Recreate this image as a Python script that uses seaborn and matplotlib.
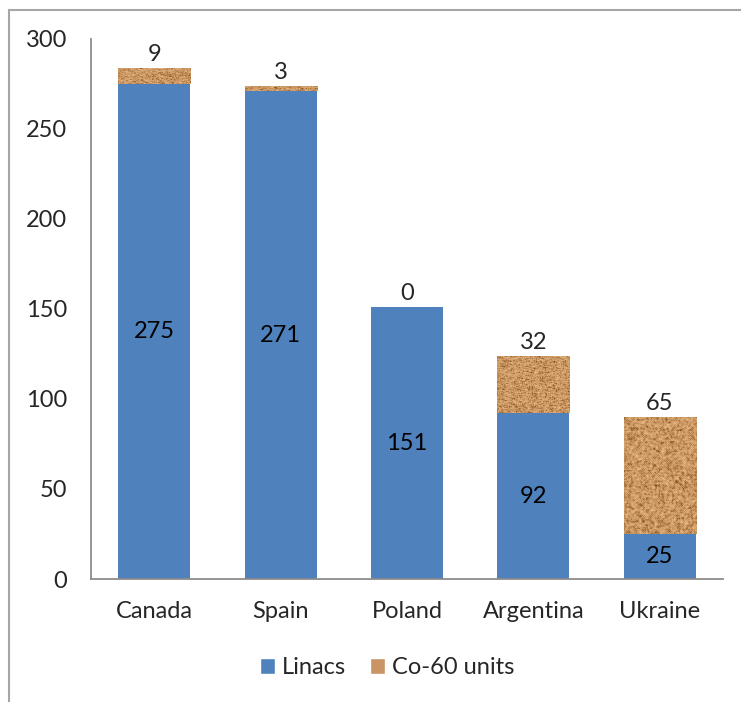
import numpy as np
import pandas as pd
import matplotlib
matplotlib.use("Agg")
import matplotlib.pyplot as plt
import seaborn as sns
from matplotlib.patches import Rectangle, Patch
from matplotlib.colors import LinearSegmentedColormap

countries = ["Canada", "Spain", "Poland", "Argentina", "Ukraine"]
linacs = [275, 271, 151, 92, 25]
co60 = [9, 3, 0, 32, 65]
yticks = [0, 50, 100, 150, 200, 250, 300]

sns.set_theme(style="white")
plt.rcParams['font.family'] = ['Lato', 'DejaVu Sans']

W, H = 741, 702
fig = plt.figure(figsize=(W / 100, H / 100), dpi=100)
ax = fig.add_axes([91 / W, 1 - 579 / H, (723 - 91) / W, (579 - 39) / H])

df = pd.DataFrame({"country": countries, "Linacs": linacs, "Co-60": co60})
df["total"] = df["Linacs"] + df["Co-60"]

blue = "#4F81BD"
brown = "#C99564"
FS = 17

sns.barplot(data=df, x="country", y="total", color=brown, width=0.57,
            saturation=1, ax=ax, edgecolor="none")
n_tot = len(ax.patches)
sns.barplot(data=df, x="country", y="Linacs", color=blue, width=0.57,
            saturation=1, ax=ax, edgecolor="none")

# cork-like texture from a deterministic hash
yy, xx = np.mgrid[0:130, 0:74].astype(float)
def h(a, b):
    v = np.sin(a * 12.9898 + b * 78.233) * 43758.5453
    return v - np.floor(v)
t = h(xx, yy)
t = (t + np.roll(t, 1, 0) + np.roll(t, 1, 1) + np.roll(t, -1, 0) + np.roll(t, -1, 1)) / 5
t = (t - t.min()) / (t.max() - t.min())
cmap = LinearSegmentedColormap.from_list(
    "cork", ["#7A4A22", "#A8733F", "#CC9863", "#DEAD7A", "#EBC393"])
for i, p in enumerate(ax.patches[:n_tot]):
    x0 = p.get_x(); w = p.get_width()
    top = p.get_height(); bot = linacs[i]
    if top - bot <= 0:
        continue
    im = ax.imshow(t, cmap=cmap, extent=[x0, x0 + w, bot, top],
                   aspect="auto", zorder=p.get_zorder() + 0.1, interpolation="nearest")
    im.set_clip_path(p)

ax.set_xlim(-0.5, 4.5)
ax.set_ylim(0, 300)
ax.set_yticks(yticks)
ax.set_yticklabels([str(v) for v in yticks], fontsize=FS)
ax.set_xlabel("")
ax.set_ylabel("")
ax.tick_params(axis="x", labelsize=FS, length=0, pad=16)
ax.tick_params(axis="y", length=0, pad=17)
for s in ["top", "right"]:
    ax.spines[s].set_visible(False)
for s in ["left", "bottom"]:
    ax.spines[s].set_color("#8C8C8C")
    ax.spines[s].set_linewidth(1.3)

for i in range(len(countries)):
    ax.text(i, linacs[i] / 2, str(linacs[i]), ha="center", va="center", fontsize=FS, color="black", zorder=10)
    ax.annotate(str(co60[i]), (i, linacs[i] + co60[i]), xytext=(0, 2),
                textcoords="offset points", ha="center", va="bottom", fontsize=FS, zorder=10)

handles = [Patch(facecolor=blue, label="Linacs"), Patch(facecolor=brown, label="Co-60 units")]
fig.legend(handles=handles, loc="center", bbox_to_anchor=(387 / W, 1 - 668 / H), ncol=2,
           frameon=False, fontsize=FS, handlelength=0.65, handleheight=0.65,
           handletextpad=0.3, columnspacing=1.0)

fig.patches.append(Rectangle((9 / W, -0.2), 2.0, 1.2 - 10 / H, transform=fig.transFigure,
                             fill=False, edgecolor="#A6A6A6", linewidth=1.5))

fig.savefig("out.png", dpi=100)
